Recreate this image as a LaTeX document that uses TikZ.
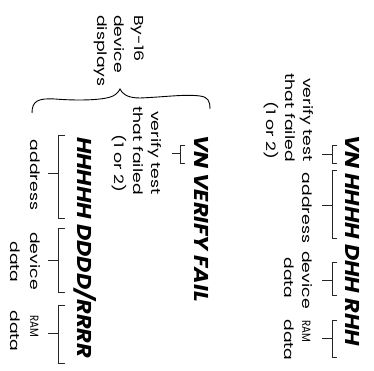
\documentclass[tikz,border=0pt]{standalone}
\usepackage{fontspec}
\setmainfont{Poppins}
\begin{document}
\begin{tikzpicture}[x=1pt,y=-1pt,
  big/.style={rotate=-90,xscale=1.12,inner sep=0pt,font=\fontsize{20}{24}\selectfont\bfseries\itshape},
  small/.style={rotate=-90,xscale=1.33,inner sep=0pt,font=\fontsize{13}{15}\selectfont},
  smallcap/.style={rotate=-90,xscale=0.85,inner sep=0pt,font=\fontsize{12}{15}\selectfont},
  brk/.style={line width=0.8pt,black!85}]
\useasboundingbox (0,0) rectangle (374,371);
% ---------- right group ----------
\node[big,anchor=base west] (rt) at (345,135) {VN HHHH DHH RHH};
\node[small,anchor=base east] (r1) at (303,162) {verify test};
\node[small,anchor=base east] (r2) at (285,162) {that failed};
\node[small,anchor=base east] (r3) at (266,160) {(1 or 2)};
\node[small,anchor=base] (ra) at (302,208) {address};
\node[small,anchor=base] (rd1) at (302,280) {device};
\node[small,anchor=base] (rd2) at (284,278) {data};
\node[smallcap,anchor=base] (rr1) at (302,331) {RAM};
\node[small,anchor=base] (rr2) at (284,340) {data};
\foreach \a/\b/\m in {145/163/154,170/238/205,262/295/280,320/357/338}{
  \draw[brk] (337,\a) -- (332,\a) -- (332,\b) -- (337,\b);
  \draw[brk] (332,\m) -- (322,\m);
}
% ---------- left group ----------
\node[big,anchor=base west] (lt) at (194,135) {VN VERIFY FAIL};
\node[big,anchor=base west] (lh) at (77,137) {HHHHH DDDD/RRRR};
\node[small,anchor=base east] (l1) at (151,195) {verify test};
\node[small,anchor=base east] (l2) at (133,195) {that failed};
\node[small,anchor=base east] (l3) at (114,193) {(1 or 2)};
\node[small,anchor=base] (la) at (30,175) {address};
\node[small,anchor=base] (ld1) at (30,261) {device};
\node[small,anchor=base] (ld2) at (10,262) {data};
\node[smallcap,anchor=base] (lr1) at (30,326) {RAM};
\node[small,anchor=base] (lr2) at (10,331) {data};
\node[small,anchor=base west] (b1) at (134,15) {By-16};
\node[small,anchor=base west] (b2) at (114,15) {device};
\node[small,anchor=base west] (b3) at (97,15) {displays};
\draw[brk] (185,145) -- (180,145) -- (180,163) -- (185,163);
\draw[brk] (180,153) -- (172,153);
\foreach \a/\b/\m in {135/218/173,228/292/260,305/363/333}{
  \draw[brk] (65,\a) -- (58,\a) -- (58,\b) -- (65,\b);
  \draw[brk] (58,\m) -- (48,\m);
}
% brace
\draw[line width=0.9pt] (32,113) .. controls (32,101) and (38,98) .. (55,99)
  .. controls (80,101) and (105,100) .. (113,96) .. controls (117,94) and (119,91) .. (120,89)
  .. controls (122,93) and (126,98) .. (140,98)
  .. controls (165,97) and (185,94) .. (200,96) .. controls (208,97) and (210,101) .. (210,109);
\end{tikzpicture}
\end{document}
